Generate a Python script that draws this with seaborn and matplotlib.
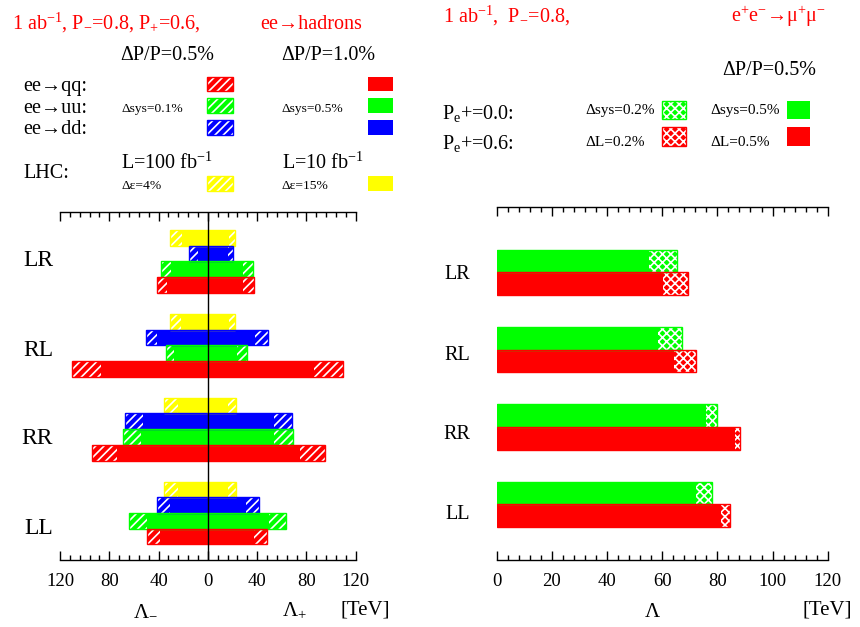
import pandas as pd
import matplotlib
matplotlib.use('Agg')
import matplotlib.pyplot as plt
import seaborn as sns
from matplotlib.patches import Rectangle
from matplotlib.ticker import MultipleLocator, FuncFormatter

plt.rcParams['font.family'] = ['Liberation Serif', 'DejaVu Serif']
plt.rcParams['mathtext.fontset'] = 'custom'
plt.rcParams['mathtext.rm'] = 'Liberation Serif'
plt.rcParams['mathtext.it'] = 'Liberation Serif:italic'
plt.rcParams['hatch.linewidth'] = 1.2

cats = ['LR', 'RL', 'RR', 'LL']

# ---- left panel: ee -> hadrons, reach in TeV (rows follow chans) ----
chans = ['LHC', 'dd', 'uu', 'qq']
chan_colors = ['#ffff00', '#0000ff', '#00ff00', '#ff0000']
# hatched = dP/P=0.5% (LHC 100 fb-1), solid = dP/P=1.0% (LHC 10 fb-1)
minus_hatch = [[30.4, 30.8, 35.7, 35.7],
               [15.7, 50.6, 66.9, 41.4],
               [38.1, 34.1, 69.0, 63.6],
               [40.9, 109.9, 93.7, 49.5]]
minus_solid = [[21.1, 21.7, 24.4, 24.4],
               [7.6, 40.9, 52.3, 30.6],
               [29.8, 27.6, 54.4, 49.3],
               [33.3, 86.6, 73.6, 38.7]]
plus_solid = [[17.3, 17.3, 16.7, 16.7],
              [16.2, 38.4, 53.8, 31.1],
              [28.7, 23.8, 53.8, 49.5],
              [28.7, 86.0, 74.9, 37.6]]
plus_hatch = [[22.2, 22.2, 22.7, 22.7],
              [20.8, 48.7, 67.9, 41.4],
              [37.0, 31.7, 69.2, 63.6],
              [37.8, 109.3, 95.0, 47.9]]

# ---- right panel: ee -> mumu ----
pol = ['Pe+=0.0', 'Pe+=0.6']
pol_colors = ['#00ff00', '#ff0000']
mu_solid = [[55.2, 58.4, 75.9, 72.2],
            [60.3, 64.3, 86.3, 81.3]]
mu_hatch = [[65.3, 67.3, 80.0, 78.2],
            [69.3, 72.2, 88.1, 84.7]]

HATCH_L = '////'
HATCH_R = 'xxxx'


def long_df(vals, names, sign=1):
    rows = []
    for name, row in zip(names, vals):
        for c, v in zip(cats, row):
            rows.append((c, name, sign * v))
    return pd.DataFrame(rows, columns=['cat', 'chan', 'val'])


def draw(ax, vals, names, colors, width, sign, hatch):
    df = long_df(vals, names, sign)
    kw = dict(data=df, x='val', y='cat', hue='chan', order=cats, hue_order=names,
              palette=colors, orient='h', width=width, dodge=True, errorbar=None,
              saturation=1, legend=False, ax=ax)
    if hatch:
        sns.barplot(**kw, hatch=hatch, edgecolor='white', linewidth=0, zorder=2)
        sns.barplot(**kw, fill=False, linewidth=1.0, zorder=4)
    else:
        sns.barplot(**kw, linewidth=0, zorder=3)


fig = plt.figure(figsize=(8.6, 6.27), dpi=100)
axL = fig.add_axes([60 / 860, 1 - 560 / 627, 295.7 / 860, 348 / 627])
axR = fig.add_axes([496.7 / 860, 1 - 560 / 627, 331 / 860, 352.7 / 627])

draw(axL, minus_hatch, chans, chan_colors, 0.75, -1, HATCH_L)
draw(axL, plus_hatch, chans, chan_colors, 0.75, 1, HATCH_L)
draw(axL, minus_solid, chans, chan_colors, 0.75, -1, None)
draw(axL, plus_solid, chans, chan_colors, 0.75, 1, None)
axL.axvline(0, color='black', lw=1.0, zorder=6)

draw(axR, mu_hatch, pol, pol_colors, 0.587, 1, HATCH_R)
draw(axR, mu_solid, pol, pol_colors, 0.587, 1, None)

for ax, lim, minor, step, ylim, ypos, pad, fs in [
        (axL, (-120, 120), 8, 40, (3.56, -0.59), [-0.04, 1.03, 2.08, 3.16], 5, 17),
        (axR, (0, 120), 4, 20, (3.72, -0.84), [0.0, 1.05, 2.07, 3.10], 19, 14.5)]:
    ax.set_xlim(*lim)
    ax.set_ylim(*ylim)
    ax.set_xlabel('')
    ax.set_ylabel('')
    ax.set_facecolor('none')
    for s in ['left', 'right']:
        ax.spines[s].set_visible(False)
    for s in ['top', 'bottom']:
        ax.spines[s].set_linewidth(1.0)
    ax.xaxis.set_major_locator(MultipleLocator(step))
    ax.xaxis.set_minor_locator(MultipleLocator(minor))
    ax.xaxis.set_major_formatter(FuncFormatter(lambda v, p: f'{abs(v):.0f}'))
    ax.tick_params(axis='x', which='both', direction='in', top=True, bottom=True,
                   labeltop=False, width=1.0, labelsize=13.5, pad=9)
    ax.tick_params(axis='x', which='major', length=6.3)
    ax.tick_params(axis='x', which='minor', length=3.4)
    ax.set_yticks(ypos, cats)
    ax.tick_params(axis='y', length=0, pad=pad, labelsize=fs)


def ftext(x, y, s, size, color='black', ha='left'):
    fig.text(x / 860, 1 - y / 627, s, fontsize=size, color=color, ha=ha, va='baseline')


def swatch(x, y, w, h, color, hatch=None):
    box = [x / 860, 1 - (y + h) / 627, w / 860, h / 627]
    if hatch:
        fig.add_artist(Rectangle(box[:2], box[2], box[3], transform=fig.transFigure,
                                 facecolor=color, edgecolor='white', lw=0, hatch=hatch))
        fig.add_artist(Rectangle(box[:2], box[2], box[3], transform=fig.transFigure,
                                 facecolor='none', edgecolor=color, lw=1.0))
    else:
        fig.add_artist(Rectangle(box[:2], box[2], box[3], transform=fig.transFigure,
                                 facecolor=color, edgecolor='none'))


red = '#ff0000'
# left header
ftext(12.5, 29.3, '1 ab$^{-1}$, P$_{-}$=0.8, P$_{+}$=0.6,', 14.5, red)
ftext(260.5, 29.3, 'ee→hadrons', 14.5, red)
ftext(120.5, 60, 'ΔP/P=0.5%', 14.5)
ftext(281.5, 60, 'ΔP/P=1.0%', 14.5)
ftext(23, 90.7, 'ee→qq:', 14.5)
ftext(23, 112.7, 'ee→uu:', 14.5)
ftext(23, 134, 'ee→dd:', 14.5)
ftext(121.5, 111.7, 'Δsys=0.1%', 9.7)
ftext(281.5, 111.7, 'Δsys=0.5%', 9.7)
ftext(23, 178.3, 'LHC:', 14.5)
ftext(120.5, 169, 'L=100 fb$^{-1}$', 14.5)
ftext(281.5, 169, 'L=10 fb$^{-1}$', 14.5)
ftext(121.5, 189.3, 'Δε=4%', 9.7)
ftext(281.5, 189.3, 'Δε=15%', 9.7)
for (yy, hh), col in zip([(76.7, 14), (98.3, 14.4), (120, 14.7), (176, 15)],
                         ['#ff0000', '#00ff00', '#0000ff', '#ffff00']):
    swatch(207.3, yy, 25.4, hh, col, HATCH_L)
    swatch(368, yy, 25, hh, col)

# right header
ftext(442.7, 22, '1 ab$^{-1}$,  P$_{-}$=0.8,', 14.5, red)
ftext(731, 22, 'e$^{+}$e$^{-}$→μ$^{+}$μ$^{-}$', 14.5, red)
ftext(722.7, 75, 'ΔP/P=0.5%', 14.5)
ftext(441.7, 119, 'P$_{\\mathrm{e}}$+=0.0:', 14.5)
ftext(441.7, 149, 'P$_{\\mathrm{e}}$+=0.6:', 14.5)
ftext(585, 114, 'Δsys=0.2%', 11)
ftext(710, 114, 'Δsys=0.5%', 11)
ftext(585, 145.7, 'ΔL=0.2%', 11)
ftext(710, 145.7, 'ΔL=0.5%', 11)
swatch(662.3, 101, 23.4, 18.3, '#00ff00', HATCH_R)
swatch(787, 101, 23.3, 18.3, '#00ff00')
swatch(662.3, 127.3, 23.4, 18.7, '#ff0000', HATCH_R)
swatch(787, 127.3, 23.3, 18.7, '#ff0000')

# axis titles
ftext(133, 615, 'Λ$_{-}$', 15)
ftext(281.5, 615, 'Λ$_{+}$', 15)
ftext(340, 614, '[TeV]', 15)
ftext(645, 616.7, 'Λ', 15)
ftext(802.7, 614, '[TeV]', 15)

fig.savefig('out.png', dpi=100)
